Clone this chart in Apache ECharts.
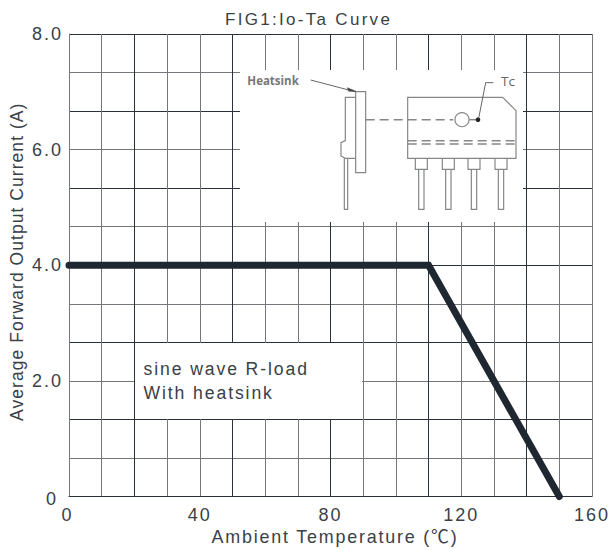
<!DOCTYPE html>
<html><head><meta charset="utf-8">
<style>
html,body{margin:0;padding:0;background:#fff}
#c{width:614px;height:550px}
#c text{letter-spacing:2px}
#c text[style*="17.5px"]{letter-spacing:1.05px}
#c text[style*="17.9px"]{letter-spacing:1.8px}
#c text[style*="17px"]{letter-spacing:2.3px}
#c text[style*="17.6px"]{letter-spacing:1.9px}
#c text[style*="11.5px"],#c text[style*="13.5px"]{letter-spacing:0}
</style>
<script src="https://cdn.jsdelivr.net/npm/echarts@6/dist/echarts.min.js"></script>
</head><body><div id="c"></div>
<script>
const curveTemp = [0, 110, 150];
const curveCurrent = [4, 4, 0];
const xTickLabels = [0, 40, 80, 120, 160];
const yTickLabels = [0, 2, 4, 6, 8];
const titleText = 'FIG1:Io-Ta Curve';
const xName = 'Ambient Temperature (℃)';
const yName = 'Average Forward Output Current (A)';
const noteLines = ['sine wave R-load', 'With heatsink'];

const FONT = '"Liberation Sans","Noto Sans CJK SC",sans-serif';
const INK = '#2b3138';
const GREY = '#74787d';
const SK = '#85878a';
const TXT = '#3a4047';

// inset: coordinates given as 3x crop offsets from (220,50)
const X = v => 220 + v / 3, Y = v => 50 + v / 3;
function poly(pts, extra, closed) {
  return Object.assign({
    type: closed ? 'polygon' : 'polyline', z: 2, silent: true,
    shape: { points: pts.map(p => [X(p[0]), Y(p[1])]) },
    style: { stroke: SK, lineWidth: 1.2, fill: closed ? '#fff' : null }
  }, extra || {});
}
const inset = [
  poly([[407,125],[437,125],[437,368],[407,368]], null, true),
  poly([[407,142],[376,142],[376,272],[363,278],[363,318],[376,325],[407,325]]),
  poly([[373,325],[373,478],[383,478],[383,325]]),
  poly([[563,142],[848,142],[888,182],[888,325],[563,325]], null, true),
];
[604, 685, 762, 843].forEach(c => {
  inset.push(poly([[c-18,325],[c-18,358],[c+18,358],[c+18,325]]));
  inset.push(poly([[c-8,358],[c-8,478],[c+8,478],[c+8,358]]));
});
[[437,209,700,209],[563,272,888,272],[563,282,888,282]].forEach(l => {
  inset.push({ type:'line', z:3, silent:true,
    shape:{x1:X(l[0]),y1:Y(l[1]),x2:X(l[2]),y2:Y(l[3])},
    style:{stroke:SK,lineWidth:1.5,lineDash:[9,5]} });
});
inset.push({ type:'circle', z:3, silent:true, shape:{cx:X(726),cy:Y(209),r:7}, style:{stroke:SK,lineWidth:1.2,fill:null} });
inset.push({ type:'line', z:3, silent:true, shape:{x1:X(748),y1:Y(209),x2:X(770),y2:Y(209)}, style:{stroke:SK,lineWidth:1.5} });
inset.push({ type:'circle', z:3, silent:true, shape:{cx:X(774),cy:Y(209),r:2.3}, style:{fill:'#222'} });
inset.push(poly([[820,98],[797,98],[776,205]], {style:{stroke:'#666',lineWidth:1,fill:null},z:3}));
inset.push(poly([[272,90],[405,125]], {style:{stroke:'#666',lineWidth:1,fill:null},z:3}));
inset.push(poly([[382,113],[408,124],[386,124]], {style:{fill:'#444',stroke:'#444',lineWidth:.5},z:3}, true));
inset.push({ type:'text', z:3, silent:true, x:X(82), y:Y(92),
  style:{text:'Heatsink',font:'bold 11.5px "Open Sans",sans-serif',fill:'#777',textVerticalAlign:'middle'} });
inset.push({ type:'text', z:3, silent:true, x:X(843), y:Y(92),
  style:{text:'Tc',font:'13.5px "Open Sans",sans-serif',fill:'#666',textVerticalAlign:'middle'} });

const chart = echarts.init(document.getElementById('c'), null, { renderer: 'svg' });
chart.setOption({
  animation: false,
  backgroundColor: '#fff',
  title: { text: titleText, left: 225, top: 11, padding: 0,
    textStyle: { fontFamily: FONT, fontSize: 17, fontWeight: 'normal', color: TXT } },
  grid: { left: 69, top: 34, width: 523, height: 462.5, containLabel: false, outerBoundsMode: 'none' },
  xAxis: {
    type: 'value', min: 0, max: 160, interval: 10,
    name: xName, nameLocation: 'middle', nameGap: 31,
    nameTextStyle: { fontFamily: FONT, fontSize: 17.9, color: TXT, padding: [0, 0, 0, 9] },
    axisLine: { show: true, lineStyle: { color: INK, width: 1 } },
    axisTick: { show: false },
    axisLabel: {
      show: true, margin: 9, fontFamily: FONT, fontSize: 18, color: TXT,
      showMinLabel: true, showMaxLabel: true, hideOverlap: false,
      formatter: v => v === 0 ? '{z|0}' : (xTickLabels.includes(v) ? String(v) : ''),
      rich: { z: { fontFamily: FONT, fontSize: 18, color: TXT, padding: [0, 3, 0, 0] } }
    },
    splitLine: { show: true, lineStyle: { width: 1, color: [GREY, GREY, INK] } }
  },
  yAxis: {
    type: 'value', min: 0, max: 8, interval: 8 / 12,
    name: yName, nameLocation: 'middle', nameGap: 43,
    nameTextStyle: { fontFamily: FONT, fontSize: 17.5, color: TXT, padding: [0, 0, 0, 7] },
    axisLine: { show: true, lineStyle: { color: GREY, width: 1 } },
    axisTick: { show: false },
    axisLabel: {
      show: true, margin: 6, fontFamily: FONT, fontSize: 18, color: TXT,
      showMinLabel: true, showMaxLabel: true, hideOverlap: false,
      formatter: v => {
        const r = Math.round(v);
        if (Math.abs(v - r) > 1e-6 || !yTickLabels.includes(r)) return '';
        return r === 0 ? '{z|0}' : r.toFixed(1);
      },
      rich: { z: { fontFamily: FONT, fontSize: 18, color: TXT, padding: [4, 5, 0, 0] } }
    },
    splitLine: { show: true, lineStyle: { width: 1, color: [INK, GREY] } }
  },
  series: [{
    type: 'line', z: 10, symbol: 'none', clip: false, silent: true,
    data: curveTemp.map((t, i) => [t, curveCurrent[i]]),
    lineStyle: { color: '#1f2830', width: 7, cap: 'round', join: 'miter' }
  }],
  graphic: [
    { type: 'rect', z: 1, silent: true, shape: { x: 240, y: 70, width: 283, height: 152 }, style: { fill: '#fff' } },
    { type: 'rect', z: 1, silent: true, shape: { x: 135, y: 343, width: 227, height: 76 }, style: { fill: '#fff' } },
    { type: 'text', z: 3, silent: true, x: 143.5, y: 369,
      style: { text: noteLines[0], font: '17.6px ' + FONT, fill: TXT, textVerticalAlign: 'middle' } },
    { type: 'text', z: 3, silent: true, x: 143.5, y: 393,
      style: { text: noteLines[1], font: '17.6px ' + FONT, fill: TXT, textVerticalAlign: 'middle' } },
    ...inset
  ]
});
</script></body></html>
